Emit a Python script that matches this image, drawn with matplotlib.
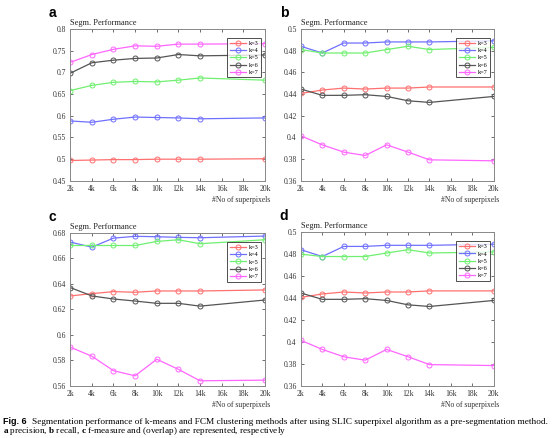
import numpy as np
import matplotlib
matplotlib.use("Agg")
import matplotlib.pyplot as plt

plt.rcParams['font.family'] = ['Liberation Serif', 'DejaVu Serif']
plt.rcParams['mathtext.fontset'] = 'custom'
plt.rcParams['mathtext.rm'] = 'Liberation Serif'
plt.rcParams['mathtext.bf'] = 'Liberation Serif:bold'

# numero de superpixels (k)
npix = [2, 4, 6, 8, 10, 12, 14, 20]
xticks = [2, 4, 6, 8, 10, 12, 14, 16, 18, 20]
xticklabels = ['2k', '4k', '6k', '8k', '10k', '12k', '14k', '16k', '18k', '20k']
labels = ['k=3', 'k=4', 'k=5', 'k=6', 'k=7']

# a: precision
prec_k3 = [0.497, 0.498, 0.499, 0.499, 0.500, 0.500, 0.500, 0.501]
prec_k4 = [0.588, 0.585, 0.592, 0.597, 0.596, 0.595, 0.593, 0.595]
prec_k5 = [0.658, 0.670, 0.677, 0.679, 0.678, 0.682, 0.687, 0.682]
prec_k6 = [0.698, 0.722, 0.728, 0.732, 0.733, 0.741, 0.738, 0.740]
prec_k7 = [0.723, 0.741, 0.753, 0.761, 0.760, 0.765, 0.765, 0.766]

# b: recall
rec_k3 = [0.4406, 0.4437, 0.4455, 0.4446, 0.4455, 0.4455, 0.4465, 0.4465]
rec_k4 = [0.4840, 0.4778, 0.4870, 0.4870, 0.4880, 0.4880, 0.4880, 0.4890]
rec_k5 = [0.4810, 0.4778, 0.4778, 0.4778, 0.4810, 0.4840, 0.4810, 0.4830]
rec_k6 = [0.4446, 0.4388, 0.4388, 0.4394, 0.4378, 0.4338, 0.4323, 0.4378]
rec_k7 = [0.4015, 0.3932, 0.3865, 0.3834, 0.3932, 0.3865, 0.3794, 0.3785]

# c: f-measure
fm_k3 = [0.6306, 0.6324, 0.6340, 0.6335, 0.6345, 0.6345, 0.6345, 0.6353]
fm_k4 = [0.6729, 0.6689, 0.6760, 0.6774, 0.6771, 0.6766, 0.6763, 0.6776]
fm_k5 = [0.6702, 0.6702, 0.6702, 0.6702, 0.6734, 0.6747, 0.6716, 0.6747]
fm_k6 = [0.6372, 0.6306, 0.6282, 0.6266, 0.6248, 0.6248, 0.6226, 0.6274]
fm_k7 = [0.5904, 0.5833, 0.5719, 0.5679, 0.5809, 0.5730, 0.5640, 0.5645]

# d: overlap (igual que recall en la figura)
ov_k3 = [0.4406, 0.4437, 0.4455, 0.4446, 0.4455, 0.4455, 0.4465, 0.4465]
ov_k4 = [0.4840, 0.4778, 0.4870, 0.4870, 0.4880, 0.4880, 0.4880, 0.4890]
ov_k5 = [0.4800, 0.4778, 0.4778, 0.4778, 0.4810, 0.4840, 0.4810, 0.4820]
ov_k6 = [0.4446, 0.4388, 0.4388, 0.4394, 0.4378, 0.4338, 0.4323, 0.4378]
ov_k7 = [0.4015, 0.3932, 0.3865, 0.3834, 0.3932, 0.3865, 0.3794, 0.3785]

colors = ['#ff7070', '#7070ff', '#70f070', '#555555', '#ff66ff']


def panel(ax, series, ylim, yticks, letter):
    for y, c, lab in zip(series, colors, labels):
        ax.plot(npix, y, '-o', color=c, lw=0.9, ms=3.6, mfc='none',
                mew=0.7, label=lab)
    ax.set_xlim(2, 20)
    ax.set_ylim(*ylim)
    ax.set_xticks(xticks)
    ax.set_xticklabels(xticklabels)
    ax.set_yticks(yticks)
    ax.set_yticklabels([f'{v:g}' for v in yticks])
    ax.tick_params(direction='in', top=True, right=True, labelsize=5.5,
                   length=2, width=0.5, colors='#333333', pad=3)
    for s in ax.spines.values():
        s.set_color('#888888')
        s.set_linewidth(0.7)
    ax.text(0.0, 1.015, 'Segm. Performance', transform=ax.transAxes,
            fontsize=6, ha='left', va='bottom', color='#222222')
    ax.text(1.03, -0.1, '#No of superpixels', transform=ax.transAxes,
            fontsize=5.5, ha='right', va='top', color='#333333')
    ax.text(-0.11, 1.06, letter, transform=ax.transAxes, fontsize=10,
            fontweight='bold', family='Liberation Sans', ha='left',
            va='bottom')
    leg = ax.legend(loc='upper right', fontsize=4.5, frameon=True,
                    fancybox=False, borderpad=0.4, labelspacing=0.3,
                    handlelength=2.6, handletextpad=0.4,
                    bbox_to_anchor=(0.995, 0.96))
    leg.get_frame().set_edgecolor('#222222')
    leg.get_frame().set_linewidth(0.7)


fig = plt.figure(figsize=(5.53, 4.38), dpi=100)
ax_a = fig.add_axes([0.127, 0.587, 0.352, 0.347])
ax_b = fig.add_axes([0.544, 0.587, 0.349, 0.347])
ax_c = fig.add_axes([0.127, 0.119, 0.352, 0.349])
ax_d = fig.add_axes([0.544, 0.119, 0.349, 0.351])

panel(ax_a, [prec_k3, prec_k4, prec_k5, prec_k6, prec_k7], (0.45, 0.8),
      np.arange(0.45, 0.801, 0.05).round(2), 'a')
panel(ax_b, [rec_k3, rec_k4, rec_k5, rec_k6, rec_k7], (0.36, 0.5),
      np.arange(0.36, 0.501, 0.02).round(2), 'b')
panel(ax_c, [fm_k3, fm_k4, fm_k5, fm_k6, fm_k7], (0.56, 0.68),
      np.arange(0.56, 0.681, 0.02).round(2), 'c')
panel(ax_d, [ov_k3, ov_k4, ov_k5, ov_k6, ov_k7], (0.36, 0.5),
      np.arange(0.36, 0.501, 0.02).round(2), 'd')

fig.text(0.006, 0.037, 'Fig. 6', fontsize=6.5, fontweight='bold',
         family='Liberation Sans', ha='left', va='center')
fig.text(0.058, 0.037,
         'Segmentation performance of k-means and FCM clustering methods '
         'after using SLIC superpixel algorithm as a pre-segmentation method.',
         fontsize=6.7, ha='left', va='center')
fig.text(0.006, 0.015,
         r'$\bf{a}$ precision, $\bf{b}$ recall, $\bf{c}$ f-measure and '
         '(overlap) are represented, respectively',
         fontsize=6.7, ha='left', va='center')

fig.savefig('out.png', dpi=100)
